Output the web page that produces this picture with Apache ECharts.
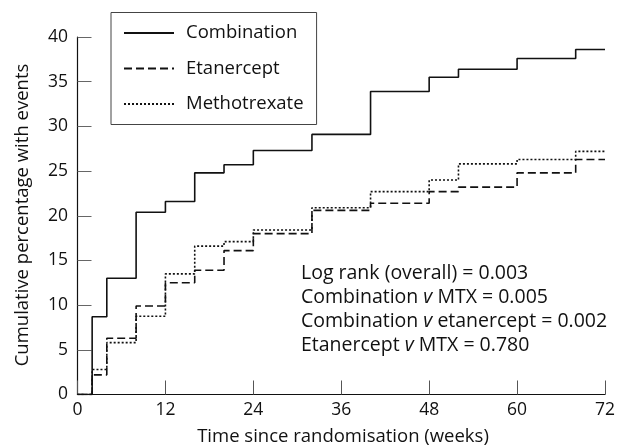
<!DOCTYPE html>
<html>
<head>
<meta charset="utf-8">
<script src="https://cdn.jsdelivr.net/npm/echarts@6/dist/echarts.min.js"></script>
<style>
html,body{margin:0;padding:0;background:#fff;}
#c{width:618px;height:446px;}
</style>
</head>
<body>
<div id="c"></div>
<script>
var weeks = [0, 2, 4, 8, 12, 16, 20, 24, 32, 40, 48, 52, 60, 68, 72];
var combination = [0, 8.7, 13.0, 20.4, 21.6, 24.8, 25.7, 27.3, 29.1, 33.9, 35.5, 36.4, 37.6, 38.6, 38.6];
var etanercept = [0, 2.2, 6.3, 9.9, 12.5, 13.9, 16.1, 18.0, 20.6, 21.4, 22.7, 23.2, 24.8, 26.3, 26.3];
var methotrexate = [0, 2.8, 5.8, 8.75, 13.5, 16.6, 17.1, 18.4, 20.9, 22.7, 24.0, 25.8, 26.3, 27.2, 27.2];
var xTicks = [0, 12, 24, 36, 48, 60, 72];
var yTicks = [0, 5, 10, 15, 20, 25, 30, 35, 40];
var statLines = [
  'Log rank (overall) = 0.003',
  'Combination {i|v} MTX = 0.005',
  'Combination {i|v} etanercept = 0.002',
  'Etanercept {i|v} MTX = 0.780'
];

var FONT = 'Open Sans';
function pairs(vals){ return weeks.map(function(w,i){ return [w, vals[i]]; }); }

var chart = echarts.init(document.getElementById('c'), null, {renderer:'canvas'});
chart.setOption({
  animation: false,
  backgroundColor: '#fff',
  textStyle: {fontFamily: FONT},
  grid: {left: 77.5, right: 9, top: 37, bottom: 51.5, containLabel: false},
  legend: {
    orient: 'vertical',
    left: 111, top: 12.5,
    padding: [11, 13, 11, 12],
    borderColor: '#444', borderWidth: 1,
    itemWidth: 50, itemHeight: 14, itemGap: 16.5,
    itemStyle: {opacity: 0},
    textStyle: {fontFamily: FONT, fontSize: 18.5, color: '#111', padding: [0, 0, 0, 7]},
    data: ['Combination', 'Etanercept', 'Methotrexate']
  },
  xAxis: {
    type: 'value', min: 0, max: 72, interval: 12,
    axisLine: {show: true, lineStyle: {color: '#111', width: 1.2}},
    axisTick: {show: true, inside: true, length: 14, lineStyle: {color: '#555', width: 1}},
    axisLabel: {fontFamily: FONT, fontSize: 17.5, color: '#111', margin: 7,
      formatter: function(v){ return xTicks.indexOf(v) >= 0 ? String(v) : ''; }},
    splitLine: {show: false}
  },
  yAxis: {
    type: 'value', min: 0, max: 40, interval: 5,
    axisLine: {show: true, lineStyle: {color: '#111', width: 1.2}},
    axisTick: {show: true, inside: true, length: 14, lineStyle: {color: '#666', width: 1}},
    axisLabel: {fontFamily: FONT, fontSize: 17.5, color: '#111', margin: 9.5,
      formatter: function(v){ return yTicks.indexOf(v) >= 0 ? String(v) : ''; }},
    splitLine: {show: false}
  },
  graphic: [
    {type: 'text', x: 23, y: 215, rotation: Math.PI/2,
      style: {text: 'Cumulative percentage with events', fontFamily: FONT, fontSize: 18.5, fill: '#111',
        align: 'center', verticalAlign: 'middle'}},
    {type: 'text', x: 343, y: 437,
      style: {text: 'Time since randomisation (weeks)', fontFamily: FONT, fontSize: 18.5, fill: '#111',
        align: 'center', verticalAlign: 'middle'}},
    {type: 'text', left: 301, top: 261,
      style: {text: statLines.join('\n'), fontFamily: FONT, fontSize: 19.5, fill: '#111', lineHeight: 24,
        rich: {i: {fontStyle: 'italic', fontFamily: FONT, fontSize: 19.5, fill: '#111', lineHeight: 24}}}}
  ],
  series: [
    {name: 'Combination', type: 'line', step: 'end', symbol: 'none', data: pairs(combination),
      lineStyle: {color: '#111', width: 1.6, type: 'solid'}, itemStyle: {color: '#111'}},
    {name: 'Etanercept', type: 'line', step: 'end', symbol: 'none', data: pairs(etanercept),
      lineStyle: {color: '#111', width: 1.6, type: [8, 4]}, itemStyle: {color: '#111'}},
    {name: 'Methotrexate', type: 'line', step: 'end', symbol: 'none', data: pairs(methotrexate),
      lineStyle: {color: '#111', width: 1.6, type: [2, 2]}, itemStyle: {color: '#111'}}
  ]
});
</script>
</body>
</html>
